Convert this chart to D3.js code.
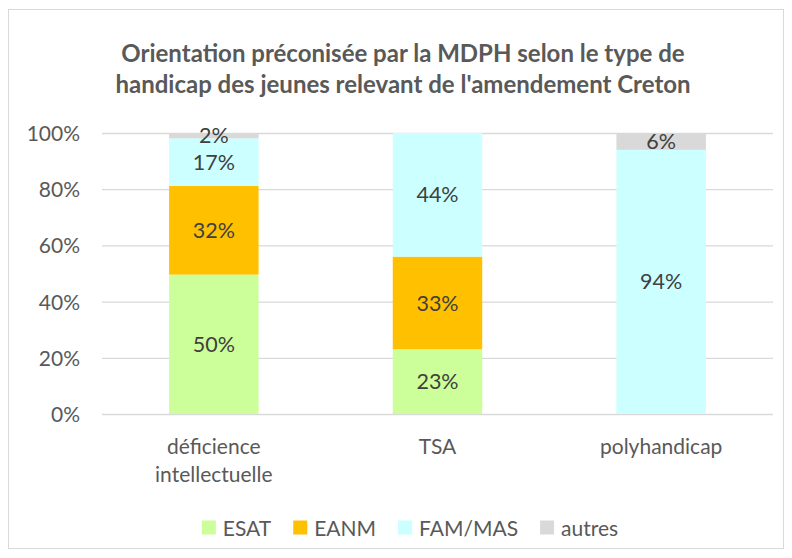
<!DOCTYPE html>
<html><head><meta charset="utf-8">
<script src="https://cdn.jsdelivr.net/npm/d3@7"></script>
<style>body{margin:0;background:#fff}svg{display:block}text{font-family:Lato,"Noto Sans",sans-serif}</style>
</head><body><svg id="c" width="792" height="558"></svg>
<script>
const categories = [["déficience","intellectuelle"],["TSA"],["polyhandicap"]];
const seriesNames = ["ESAT","EANM","FAM/MAS","autres"];
const colors = ["#ccff99","#ffc000","#ccffff","#d9d9d9"];
const ESAT   = [49.6, 23, 0];
const EANM   = [31.6, 33, 0];
const FAMMAS = [16.9, 44, 94];
const autres = [1.9, 0, 6];
const yTicks = [0, 20, 40, 60, 80, 100];
const titleLines = ["Orientation préconisée par la MDPH selon le type de","handicap des jeunes relevant de l'amendement Creton"];

const series = [ESAT, EANM, FAMMAS, autres];
const rows = categories.map((c,i)=>{const r={cat:i};seriesNames.forEach((s,j)=>r[s]=series[j][i]);return r;});
const stacked = d3.stack().keys(seriesNames)(rows);

const svg = d3.select("#c");
svg.append("rect").attr("x",8.5).attr("y",9.5).attr("width",775).attr("height",539).attr("fill","#fff").attr("stroke","#d9d9d9");

const x = d3.scaleBand().domain(d3.range(categories.length)).range([102,773]).paddingInner(0.6).paddingOuter(0.3);
const y = d3.scaleLinear().domain([0,100]).range([414,133]);

// title
svg.append("g").selectAll("text").data(titleLines).join("text")
  .attr("x",403).attr("y",(d,i)=>62+i*31).attr("text-anchor","middle")
  .attr("font-size",24).attr("font-weight","bold").attr("fill","#595959").text(d=>d);

// gridlines
svg.append("g").selectAll("line").data(yTicks).join("line")
  .attr("x1",102).attr("x2",773).attr("y1",d=>y(d)+0.5).attr("y2",d=>y(d)+0.5)
  .attr("stroke","#d9d9d9").attr("stroke-width",1.3);

// y axis labels
const yAxis = d3.axisLeft(y).tickValues(yTicks).tickFormat(d=>d+"%").tickSize(0).tickPadding(22);
const ga = svg.append("g").attr("transform","translate(102,0)").call(yAxis);
ga.select(".domain").remove();
ga.selectAll("text").attr("font-size",21).attr("fill","#595959").attr("font-family","Lato,'Noto Sans',sans-serif").attr("dy","0.36em");

// bars
const g = svg.append("g");
stacked.forEach((s,j)=>{
  g.append("g").selectAll("rect").data(s).join("rect")
    .attr("x",(d,i)=>x(i)).attr("width",x.bandwidth())
    .attr("y",d=>y(d[1])).attr("height",d=>y(d[0])-y(d[1]))
    .attr("fill",colors[j]);
});
const fmt = d3.format(".0f");
stacked.forEach((s,j)=>{
  g.append("g").selectAll("text").data(s.filter(d=>d[1]-d[0]>0)).join("text")
    .attr("x",d=>x(d.data.cat)+x.bandwidth()/2)
    .attr("y",d=>(y(d[0])+y(d[1]))/2+7.5)
    .attr("text-anchor","middle").attr("font-size",21.5).attr("fill","#404040")
    .text(d=>fmt(d[1]-d[0])+"%");
});

// x labels
const xl = svg.append("g").selectAll("text").data(categories).join("text")
  .attr("x",(d,i)=>x(i)+x.bandwidth()/2).attr("y",454)
  .attr("text-anchor","middle").attr("font-size",21).attr("fill","#595959");
xl.selectAll("tspan").data(d=>d).join("tspan")
  .attr("x",function(){return this.parentNode.getAttribute("x");})
  .attr("dy",(d,i)=>i?28:0).text(d=>d);

// legend
const lg = svg.append("g");
let cx = 0;
seriesNames.forEach((n,i)=>{
  const it = lg.append("g");
  it.append("rect").attr("x",0).attr("y",-7).attr("width",14).attr("height",14).attr("fill",colors[i]);
  const t = it.append("text").attr("x",21).attr("y",8).attr("font-size",21).attr("fill","#595959").text(n);
  const w = 21 + t.node().getComputedTextLength();
  it.attr("transform",`translate(${cx},527.5)`);
  cx += w + 22;
});
const total = cx - 22;
lg.attr("transform",`translate(${410-total/2},0)`);
</script></body></html>
